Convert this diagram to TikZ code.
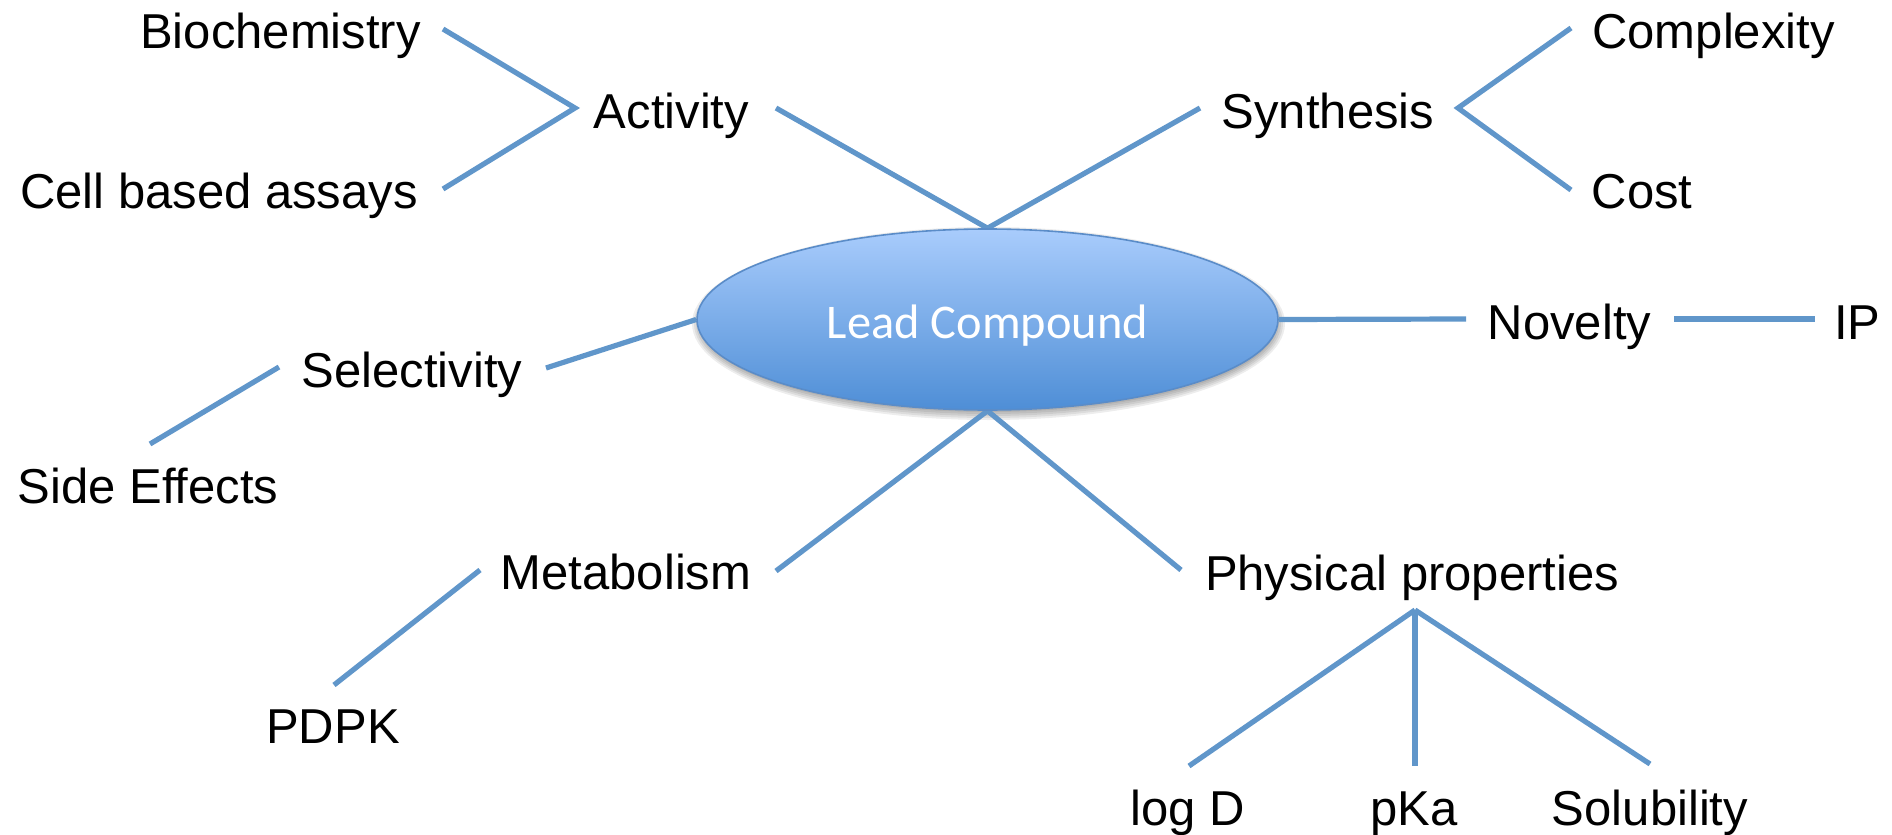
\documentclass[tikz,border=0pt]{standalone}
\usepackage{fontspec}
\setmainfont{Liberation Sans}
\newfontfamily\calib{Carlito}
\usetikzlibrary{shapes.geometric}
\definecolor{linec}{HTML}{6096CA}
\definecolor{elltop}{HTML}{A9CCFC}
\definecolor{ellbot}{HTML}{4E8ED6}
\definecolor{elledge}{HTML}{5A8CC8}
\pgfdeclarelayer{shad}
\pgfdeclarelayer{bg}
\pgfsetlayers{shad,bg,main}
\tikzset{
  lbl/.style={inner sep=0pt, anchor=base, font=\fontsize{24.5}{29}\selectfont, text=black},
  conn/.style={draw=linec, line width=2.6pt},
  leadell/.style={ellipse, draw=elledge, line width=0.8pt, top color=elltop, bottom color=ellbot,
    minimum width=290.5pt, minimum height=90.5pt, inner sep=0pt},
  leadtxt/.style={inner sep=0pt, anchor=base, font=\calib\fontsize{24.2}{29}\selectfont, text=white},
  softshadow/.style={fill=black, opacity=0.07, draw=none},
}
\begin{document}
\begin{tikzpicture}[x=0.5pt,y=-0.5pt]
\useasboundingbox (0,0) rectangle (1892,835);
% central ellipse
\node[leadell] (lead) at (987.5,319.5) {};
\node[leadtxt] (leadt) at (987.5,338) {Lead Compound};
\begin{pgfonlayer}{shad}
\foreach \d in {-2,0,2,4,6}
  \fill[softshadow] (988.5,323.5) ellipse [x radius={290.5+\d}, y radius={90.5+\d}];
\end{pgfonlayer}
% labels
\node[lbl] (bio)  at (280.5,48)  {Biochemistry};
\node[lbl] (act)  at (671.5,128) {Activity};
\node[lbl] (cell) at (219,208)   {Cell based assays};
\node[lbl] (syn)  at (1328,128)  {Synthesis};
\node[lbl] (cplx) at (1713.5,48) {Complexity};
\node[lbl] (cost) at (1642,208)  {Cost};
\node[lbl] (nov)  at (1569.5,339) {Novelty};
\node[lbl] (ip)   at (1857.5,339) {IP};
\node[lbl] (sel)  at (412,387)   {Selectivity};
\node[lbl] (side) at (148,503)   {Side Effects};
\node[lbl] (met)  at (626,589)   {Metabolism};
\node[lbl] (phys) at (1412,590)  {Physical properties};
\node[lbl] (pdpk) at (333,743)   {PDPK};
\node[lbl] (logd) at (1187.5,825) {log D};
\node[lbl] (pka)  at (1414,825)  {pKa};
\node[lbl] (sol)  at (1650,825)  {Solubility};
% connector end points
\coordinate (bio-e)  at (443,29);
\coordinate (act-w)  at (575,108);
\coordinate (cell-e) at (443,189);
\coordinate (act-e)  at (776,108);
\coordinate (syn-w)  at (1200,108);
\coordinate (syn-e)  at (1458,108);
\coordinate (cplx-w) at (1571,28);
\coordinate (cost-w) at (1571,190);
\coordinate (nov-w)  at (1466,319);
\coordinate (nov-e)  at (1674,319);
\coordinate (ip-w)   at (1815,319);
\coordinate (sel-e)  at (546,368);
\coordinate (sel-w)  at (279,367);
\coordinate (side-n) at (150,444);
\coordinate (met-e)  at (776,571);
\coordinate (met-w)  at (480,570);
\coordinate (pdpk-n) at (334,685);
\coordinate (phys-w) at (1181,570);
\coordinate (phys-s) at (1415,610);
\coordinate (logd-n) at (1189,766);
\coordinate (pka-n)  at (1415,766);
\coordinate (sol-n)  at (1650,764);
\begin{pgfonlayer}{bg}
\draw[conn] (bio-e) -- (act-w) -- (cell-e);
\draw[conn] (act-e) -- (lead.north) -- (syn-w);
\draw[conn] (cplx-w) -- (syn-e) -- (cost-w);
\draw[conn] (lead.east) -- (nov-w);
\draw[conn] (nov-e) -- (ip-w);
\draw[conn] (lead.west) -- (sel-e);
\draw[conn] (sel-w) -- (side-n);
\draw[conn] (met-e) -- (lead.south) -- (phys-w);
\draw[conn] (met-w) -- (pdpk-n);
\draw[conn] (phys-s) -- (logd-n);
\draw[conn] (phys-s) -- (pka-n);
\draw[conn] (phys-s) -- (sol-n);
\end{pgfonlayer}
\end{tikzpicture}
\end{document}
